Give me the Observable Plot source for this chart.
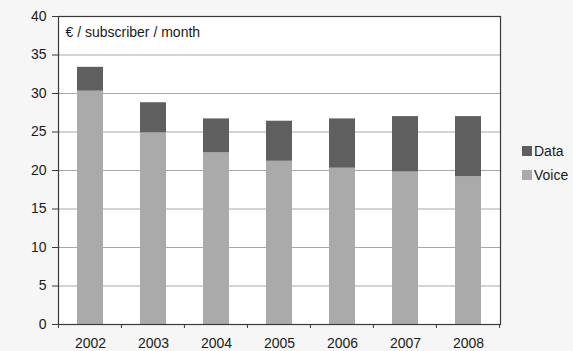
<!DOCTYPE html>
<html>
<head>
<meta charset="utf-8">
<script src="https://cdn.jsdelivr.net/npm/d3@7"></script>
<script src="https://cdn.jsdelivr.net/npm/@observablehq/plot@0.6"></script>
<style>
  html, body { margin: 0; padding: 0; background: #f6f6f6; }
  #chart { position: relative; width: 573px; height: 351px; }
</style>
</head>
<body>
<div id="chart"></div>
<script>
// Average revenue per subscriber, split into voice and data
const years = ["2002", "2003", "2004", "2005", "2006", "2007", "2008"];
const voice = [30.3, 24.9, 22.3, 21.2, 20.3, 19.8, 19.2];
const data  = [3.1, 3.9, 4.4, 5.2, 6.4, 7.2, 7.8];
const series = ["Voice", "Data"];
const colors = ["#aaaaaa", "#5f5f5f"];
const yTicks = [0, 5, 10, 15, 20, 25, 30, 35, 40];
const unitLabel = "€ / subscriber / month";

const rows = [];
years.forEach((y, i) => {
  rows.push({year: y, kind: "Voice", value: voice[i]});
  rows.push({year: y, kind: "Data", value: data[i]});
});

const font = "'Liberation Sans', Arial, sans-serif";

const plot = Plot.plot({
  width: 573,
  height: 351,
  marginLeft: 58,
  marginRight: 73,
  marginTop: 16,
  marginBottom: 27,
  style: {fontFamily: font, fontSize: "14px", color: "#1a1a1a", background: "#f6f6f6"},
  x: {domain: years, paddingInner: 0.59, paddingOuter: 0.295, label: null, tickSize: 0, tickPadding: 14},
  y: {domain: [0, 40], ticks: yTicks, label: null, tickSize: 6, tickPadding: 6},
  color: {domain: series, range: colors},
  marks: [
    Plot.frame({fill: "white", stroke: "none"}),
    Plot.gridY(yTicks.filter(t => t > 0 && t < 40), {stroke: "#a8a8a8", strokeOpacity: 1}),
    Plot.barY(rows, Plot.stackY({x: "year", y: "value", fill: "kind", order: series})),
    Plot.frame({stroke: "#3a3a3a", strokeWidth: 1.2}),
    Plot.axisY({ticks: yTicks, tickSize: 6, tickPadding: 6, stroke: "#3a3a3a"}),
    Plot.axisX({tickSize: 0, tickPadding: 14}),
    Plot.text([unitLabel], {frameAnchor: "top-left", dx: 7, dy: 11, text: d => d, fontSize: 14, fill: "#1a1a1a"})
  ]
});

document.getElementById("chart").appendChild(plot);

// Category boundary ticks under the baseline and the legend on the right
const svg = d3.select(plot);
const xs = plot.scale("x");
const ys = plot.scale("y");
const step = xs.step;
const y0 = ys.apply(0);
const bounds = years.map(y => xs.apply(y) - step * xs.paddingOuter).concat([xs.apply(years[years.length - 1]) + xs.bandwidth + step * xs.paddingOuter]);
svg.append("g")
  .attr("stroke", "#3a3a3a")
  .selectAll("line")
  .data(bounds)
  .join("line")
  .attr("x1", d => d).attr("x2", d => d)
  .attr("y1", y0).attr("y2", y0 + 4);

const legend = svg.append("g").attr("font-family", font).attr("font-size", 14).attr("text-anchor", "start");
["Data", "Voice"].forEach((name, i) => {
  const g = legend.append("g").attr("transform", `translate(522, ${146 + i * 24})`);
  g.append("rect").attr("width", 10).attr("height", 10)
    .attr("fill", colors[series.indexOf(name)]);
  g.append("text").attr("x", 12).attr("y", 10).attr("fill", "#1a1a1a").text(name);
});
</script>
</body>
</html>
